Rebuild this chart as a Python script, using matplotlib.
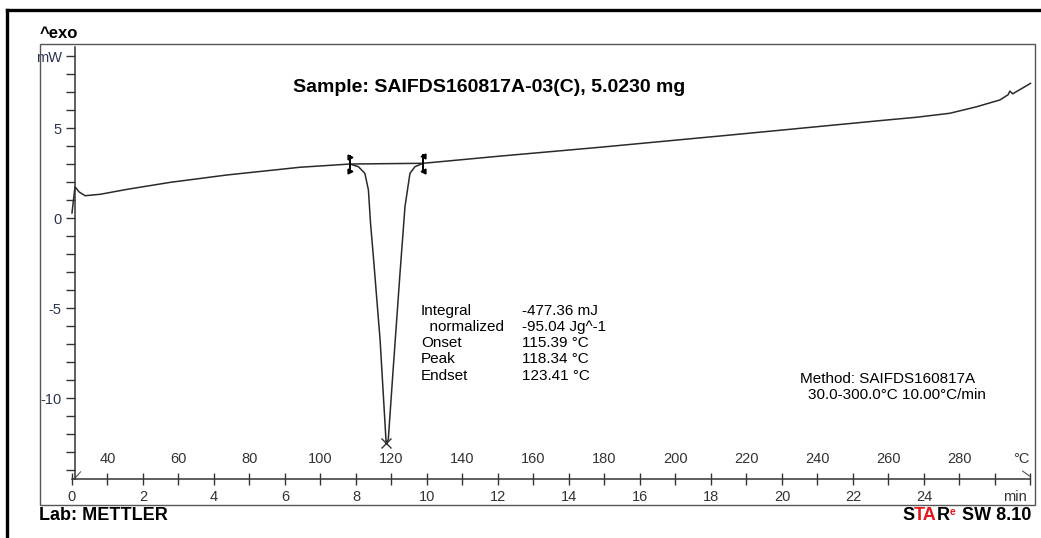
"""DSC thermogram, METTLER STARe style."""

import matplotlib
matplotlib.use("Agg")
import matplotlib.pyplot as plt
from matplotlib.lines import Line2D
from matplotlib.patches import Rectangle
from matplotlib.ticker import FixedLocator, FuncFormatter

plt.rcParams['font.family'] = ['Liberation Sans', 'DejaVu Sans']

# heat flow curve (time in min, heat flow in mW)
time_min = [0.0, 0.085, 0.2, 0.37, 0.8, 1.54, 2.76, 4.36, 6.42, 7.83,
            8.07, 8.25, 8.35, 8.41, 8.49, 8.68, 8.85, 8.91, 9.04, 9.24,
            9.38, 9.52, 9.66, 9.89, 12.06, 14.87, 18.54, 22.76, 23.8,
            24.73, 25.48, 26.14, 26.37, 26.42, 26.5, 27.0]
heat_flow_mw = [0.28, 1.74, 1.45, 1.24, 1.32, 1.59, 1.98, 2.39, 2.82, 3.00,
                2.85, 2.48, 1.56, -0.30, -2.15, -6.8, -12.5, -12.3, -8.6, -3.06,
                0.63, 2.48, 2.85, 3.04, 3.44, 3.93, 4.61, 5.41, 5.6,
                5.82, 6.18, 6.56, 6.85, 7.05, 6.90, 7.48]

# integration limits and peak
limit_min = [7.83, 9.89]
limit_mw = [3.00, 3.04]
peak_min = 8.85
peak_mw = -12.5

time_ticks = list(range(0, 28))
time_labels = list(range(0, 25, 2))
temp_labels = list(range(40, 300, 20))
y_major = [-10, -5, 0, 5, 9]
y_major_labels = ['-10', '-5', '0', '5', 'mW']
y_minor = list(range(-14, 10))

stats_names = ['Integral', '  normalized', 'Onset', 'Peak', 'Endset']
stats_values = ['-477.36 mJ', '-95.04 Jg^-1', '115.39 °C', '118.34 °C',
                '123.41 °C']

W, H = 1041, 538
fig = plt.figure(figsize=(W / 100, H / 100), dpi=100)


def fx(px):
    return px / W


def fy(py):
    return 1 - py / H


# outer thick frame (left and top only are visible)
fig.add_artist(Line2D([fx(7), fx(7)], [fy(10), 0], color='black', lw=2.4))
fig.add_artist(Line2D([fx(7), 1], [fy(10), fy(10)], color='black', lw=2.4))

# inner thin frame
fig.add_artist(Rectangle((fx(40), fy(505)), fx(1035) - fx(40),
                         fy(44) - fy(505), fill=False, edgecolor='#555555',
                         lw=1.0, transform=fig.transFigure))

ax = fig.add_axes([fx(40), fy(505), fx(1035) - fx(40), fy(44) - fy(505)])
ax.patch.set_alpha(0)
ax.set_xlim(-0.901, 27.127)
ax.set_ylim(-15.94, 9.667)

ax.spines['top'].set_visible(False)
ax.spines['right'].set_visible(False)
ax.spines['left'].set_position(('data', 0.085))
ax.spines['left'].set_bounds(-14.5, 9.5)
ax.spines['bottom'].set_position(('data', -14.5))
ax.spines['bottom'].set_bounds(0, 27.0)
for s in ('left', 'bottom'):
    ax.spines[s].set_color('#333333')
    ax.spines[s].set_linewidth(1.1)

# y axis
ax.yaxis.set_major_locator(FixedLocator(y_major))
ax.yaxis.set_major_formatter(
    FuncFormatter(lambda v, p: y_major_labels[y_major.index(round(v))]))
ax.yaxis.set_minor_locator(FixedLocator(y_minor))
ax.tick_params(axis='y', which='both', direction='out', length=6.5,
               width=1.0, color='#333333', pad=3)
ax.tick_params(axis='y', labelsize=10.5, labelcolor='#2b3550')

# x axis (time)
ax.xaxis.set_major_locator(FixedLocator(time_ticks))
ax.xaxis.set_major_formatter(
    FuncFormatter(lambda v, p: str(int(round(v))) if round(v) in time_labels else ''))
ax.tick_params(axis='x', which='major', direction='inout', length=8.5,
               width=1.0, color='#333333', pad=3.5, labelsize=10.5,
               labelcolor='#333333')
ax.text(26.56, -15.5, 'min', ha='center', va='center', fontsize=10.5,
        color='#333333')

# temperature labels above the axis
for T in temp_labels:
    ax.text((T - 30) / 10, -13.4, str(T), ha='center', va='center',
            fontsize=10.5, color='#333333')
ax.text(26.73, -13.4, '°C', ha='center', va='center', fontsize=10.5,
        color='#333333')

# axis break marks
ax.plot([0.06, 0.24], [-14.5, -14.1], color='#555555', lw=0.8)
ax.plot([26.78, 26.98], [-14.06, -14.34], color='#555555', lw=0.8)

# curve
ax.plot(time_min, heat_flow_mw, color='#2a2a2a', lw=1.1)

# integration baseline and limit markers
ax.plot(limit_min, limit_mw, color='#2a2a2a', lw=1.1)
for t, v, m in zip(limit_min, limit_mw, ['>', '<']):
    ax.plot([t, t], [v - 0.47, v + 0.47], color='black', lw=1.4)
    ax.plot([t, t], [v - 0.4, v + 0.4], ls='none', marker=m,
            markersize=3.5, color='black')
ax.plot(peak_min, peak_mw, marker='x', markersize=7, mew=1.0,
        color='#333333')

# texts
fig.text(fx(40), fy(34), '^exo', fontsize=12, fontweight='bold',
         ha='left', va='center')
fig.text(fx(489.5), fy(87), 'Sample: SAIFDS160817A-03(C), 5.0230 mg',
         fontsize=14, fontweight='bold', ha='center', va='center')

row_y = [310.7, 326.7, 343.3, 359.3, 375.7]
for name, val, y in zip(stats_names, stats_values, row_y):
    fig.text(fx(421), fy(y), name, fontsize=11, ha='left', va='center')
    fig.text(fx(522), fy(y), val, fontsize=11, ha='left', va='center')

fig.text(fx(800), fy(379), 'Method: SAIFDS160817A', fontsize=11,
         ha='left', va='center')
fig.text(fx(808), fy(395), '30.0-300.0°C 10.00°C/min', fontsize=11,
         ha='left', va='center')

fig.text(fx(39), fy(516), 'Lab: METTLER', fontsize=13, fontweight='bold',
         ha='left', va='center')

s = fig.text(fx(902), fy(516), 'S', fontsize=13, fontweight='bold',
             ha='left', va='center')
ta = ax.annotate('TA', xy=(1, 0), xycoords=s, ha='left', va='bottom',
                 fontsize=13, fontweight='bold', color='#e8141b')
r = ax.annotate('R', xy=(1, 0), xycoords=ta, ha='left', va='bottom',
                fontsize=13, fontweight='bold')
e = ax.annotate('e', xy=(1, 0.45), xycoords=r, ha='left', va='bottom',
                fontsize=7.5, fontweight='bold', color='#e8141b')
ax.annotate(' SW 8.10', xy=(1, 0), xycoords=r, xytext=(5, 0),
            textcoords='offset points', ha='left', va='bottom',
            fontsize=13, fontweight='bold')

fig.savefig('out.png', dpi=100)
